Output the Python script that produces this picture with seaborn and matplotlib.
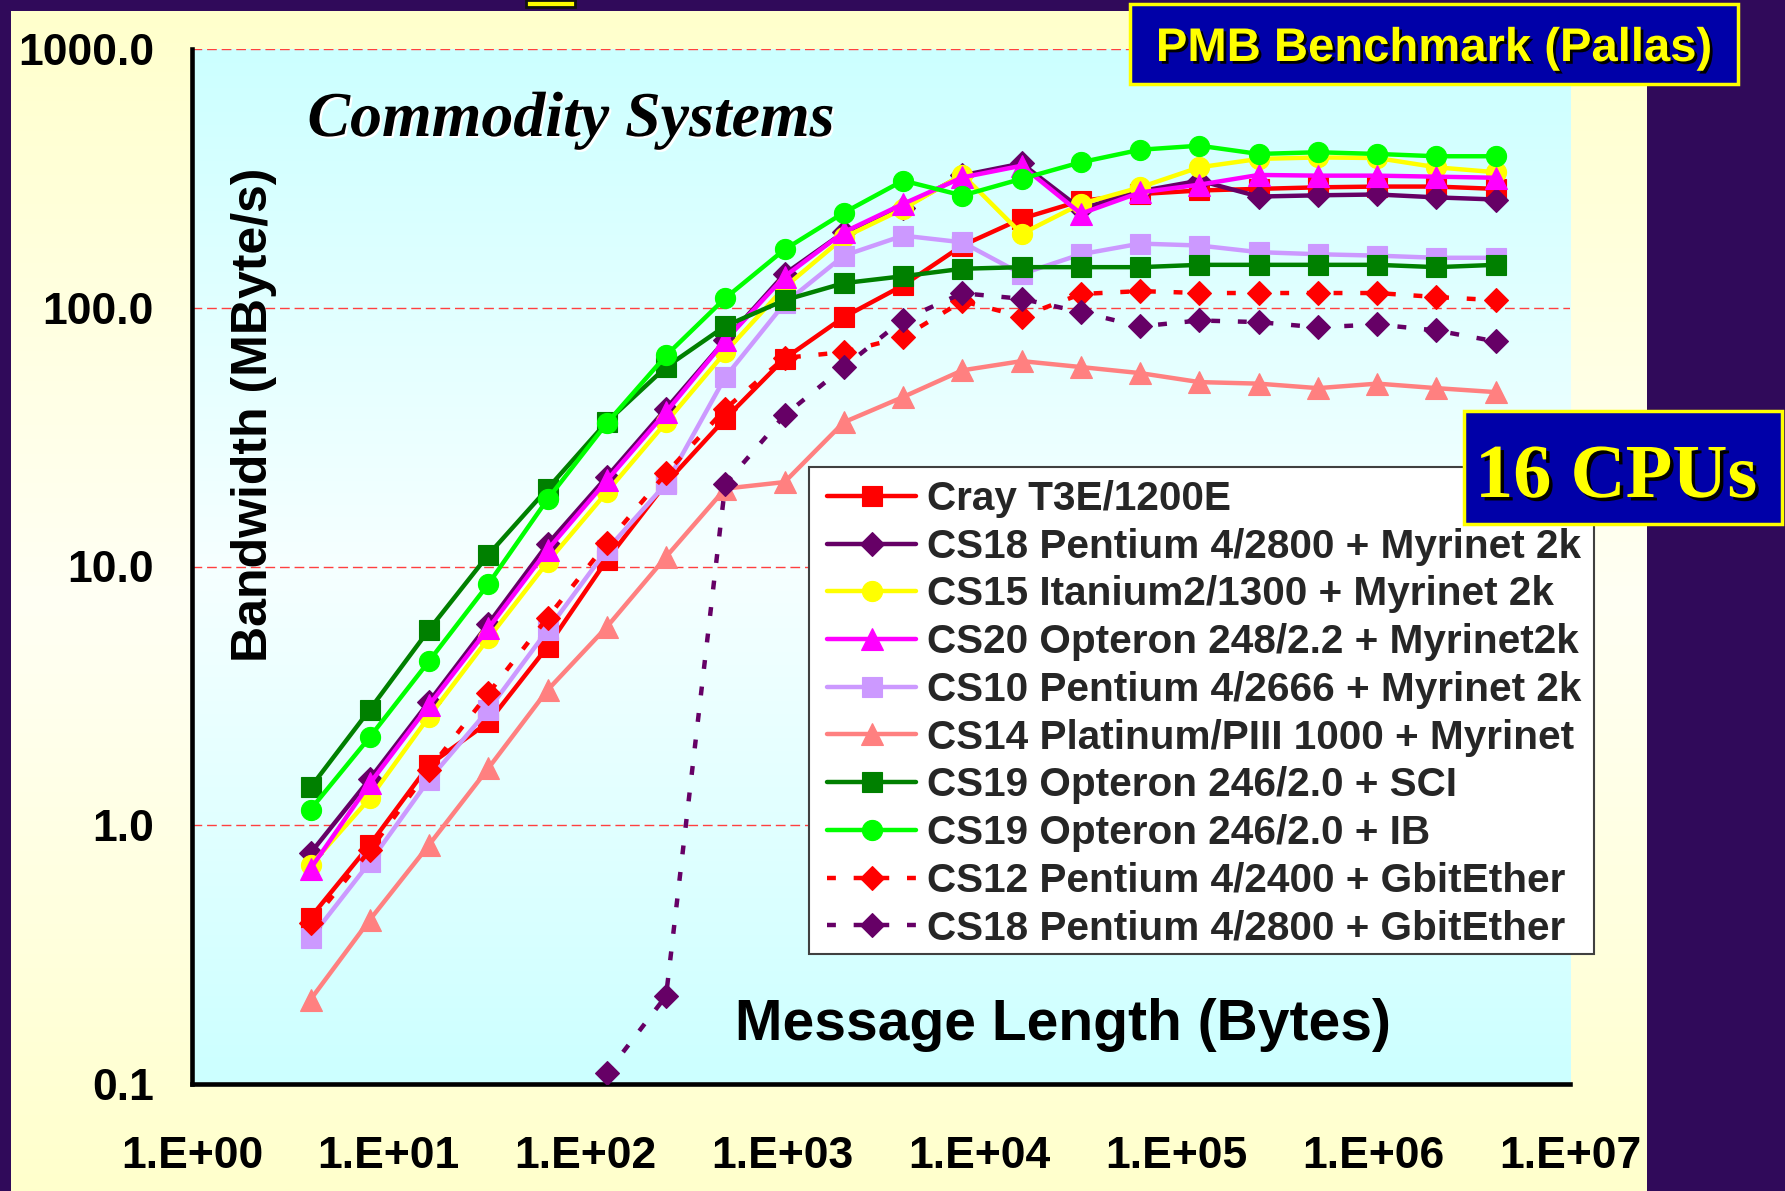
import numpy as np
import pandas as pd
import matplotlib
matplotlib.use("Agg")
import matplotlib.pyplot as plt
import seaborn as sns
from matplotlib import patheffects as pe
from matplotlib.patches import Rectangle
from matplotlib.ticker import FixedLocator, NullLocator

# ---------------- data ----------------
msg_len = [4, 8, 16, 32, 64, 128, 256, 512, 1024, 2048, 4096, 8192, 16384,
           32768, 65536, 131072, 262144, 524288, 1048576, 2097152, 4194304]

cray_t3e = [0.44, 0.84, 1.71, 2.5, 4.9, 10.6, 21.0, 37.3, 63.6, 92, 122, 174,
            221, 259, 275, 284, 288, 292, 294, 294, 288]
cs18_myri = [0.78, 1.51, 3.0, 6.0, 12.2, 22.2, 40.7, 75, 135, 196, 244, 325,
             361, 241, 282, 310, 269, 272, 274, 267, 262]
cs15_myri = [0.70, 1.27, 2.63, 5.27, 10.4, 19.4, 36.1, 67.4, 120, 187, 241, 327,
             193, 252, 292, 349, 376, 381, 379, 349, 334]
cs20_myri = [0.68, 1.45, 2.91, 5.76, 11.6, 21.5, 39.5, 74.8, 132, 196, 252, 319,
             354, 231, 279, 299, 326, 324, 324, 321, 318]
cs10_myri = [0.366, 0.72, 1.50, 2.79, 5.68, 11.6, 20.9, 54, 104, 159, 190, 179,
             135, 161, 177, 174, 164, 161, 159, 156, 156]
cs14_myri = [0.212, 0.431, 0.84, 1.66, 3.33, 5.84, 10.9, 20.0, 21.2, 36.1, 45.2,
             57.3, 62.2, 59, 55.9, 51.6, 50.9, 48.9, 50.9, 48.9, 47.2]
cs19_sci = [1.40, 2.8, 5.7, 11.1, 20.0, 36.2, 59, 85, 107, 124.5, 132.4, 141.5,
            143.5, 143.5, 143.5, 146.5, 146.5, 146.5, 146.5, 143.5, 146.5]
cs19_ib = [1.15, 2.19, 4.31, 8.55, 18.2, 35.8, 65.4, 109, 168, 233, 310, 271.5,
           315, 365, 408, 423, 393, 399, 393, 385, 385]
cs12_gbit = [0.418, 0.80, 1.64, 3.23, 6.35, 12.3, 22.9, 40.7, 64, 67.4, 77, 106,
             92.5, 113, 116, 114, 114, 114, 114, 110, 107]
cs18_gbit = [np.nan, np.nan, np.nan, np.nan, np.nan, 0.110, 0.219, 20.9, 38.4, 59,
             89.9, 113.8, 108.3, 96.2, 84.7, 89.3, 88, 84, 86.2, 81.7, 74.1]

series_names = [
    "Cray T3E/1200E",
    "CS18 Pentium 4/2800 + Myrinet 2k",
    "CS15 Itanium2/1300 + Myrinet 2k",
    "CS20 Opteron 248/2.2 + Myrinet2k",
    "CS10 Pentium 4/2666 + Myrinet 2k",
    "CS14 Platinum/PIII 1000 + Myrinet",
    "CS19 Opteron 246/2.0 + SCI",
    "CS19 Opteron 246/2.0 + IB",
    "CS12 Pentium 4/2400 + GbitEther",
    "CS18 Pentium 4/2800 + GbitEther",
]
series_values = [cray_t3e, cs18_myri, cs15_myri, cs20_myri, cs10_myri,
                 cs14_myri, cs19_sci, cs19_ib, cs12_gbit, cs18_gbit]

x_ticks = [1e0, 1e1, 1e2, 1e3, 1e4, 1e5, 1e6, 1e7]
x_tick_labels = ["1.E+00", "1.E+01", "1.E+02", "1.E+03", "1.E+04", "1.E+05",
                 "1.E+06", "1.E+07"]
y_ticks = [0.1, 1, 10, 100, 1000]
y_tick_labels = ["0.1", "1.0", "10.0", "100.0", "1000.0"]

# ---------------- styles ----------------
series_colors = ["#FF0000", "#660066", "#FFFF00", "#FF00FF", "#CC99FF",
                 "#FF8080", "#008000", "#00FF00", "#FF0000", "#660066"]
series_markers = ["s", "D", "o", "^", "s", "^", "s", "o", "D", "D"]
marker_sizes = {"s": 14, "D": 12.5, "o": 14.5, "^": 16}
series_dashed = [False] * 8 + [True, True]

W, H, DPI = 1785, 1191, 100

sns.set_style("white")
plt.rcParams["font.family"] = ["Liberation Sans", "DejaVu Sans"]
plt.rcParams["font.weight"] = "bold"


def fx(px):
    return px / W


def fy(py):
    return 1 - py / H


fig = plt.figure(figsize=(W / DPI, H / DPI), dpi=DPI)
fig.patch.set_facecolor("#300A5A")

# cream slide background with soft gradient
t = np.linspace(0, 1, 256)
w = 1 - np.abs(2 * t - 1)
cream = np.array([255, 255, 204]) / 255
cream_c = np.array([255, 255, 244]) / 255
grad = cream + (cream_c - cream) * w[:, None]
bg = fig.add_axes([fx(11), 0, fx(1646) - fx(11), fy(11)], zorder=-3)
bg.imshow(grad[:, None, :], aspect="auto", extent=(0, 1, 0, 1),
          interpolation="bilinear")
bg.set_xlim(0, 1)
bg.set_ylim(0, 1)
bg.set_axis_off()

# plot area
rect = [fx(192), fy(1084), (1570 - 192) / W, (1084 - 49) / H]
cyan = np.array([204, 255, 255]) / 255
cyan_c = np.array([246, 255, 255]) / 255
grad2 = cyan + (cyan_c - cyan) * w[:, None]
pb = fig.add_axes(rect, zorder=-2)
pb.imshow(grad2[:, None, :], aspect="auto", extent=(0, 1, 0, 1),
          interpolation="bilinear")
pb.set_xlim(0, 1)
pb.set_ylim(0, 1)
pb.set_axis_off()

ax = fig.add_axes(rect, zorder=0)
ax.patch.set_alpha(0)
ax.set_xscale("log")
ax.set_yscale("log")

for i, (name, vals, color, mk, dashed) in enumerate(
        zip(series_names, series_values, series_colors, series_markers,
            series_dashed)):
    df = pd.DataFrame({"len": msg_len, "bw": vals})
    sns.lineplot(data=df, x="len", y="bw", ax=ax, color=color, marker=mk,
                 markersize=marker_sizes[mk], markeredgecolor=color,
                 markeredgewidth=0.8, linewidth=3.2,
                 linestyle=(0, (2, 4)) if dashed else "-",
                 label=name, estimator=None, sort=False, errorbar=None,
                 zorder=3 + i)

ax.set_xlim(1, 1e7)
ax.set_ylim(0.1, 1000)
ax.xaxis.set_major_locator(FixedLocator(x_ticks))
ax.xaxis.set_minor_locator(NullLocator())
ax.yaxis.set_major_locator(FixedLocator(y_ticks))
ax.yaxis.set_minor_locator(NullLocator())
ax.set_xticklabels(x_tick_labels, fontsize=32, fontweight="bold")
ax.set_yticklabels(y_tick_labels, fontsize=32, fontweight="bold")
ax.tick_params(axis="both", which="major", direction="out", length=10.8,
               width=3.3, color="black", labelcolor="black")
ax.tick_params(axis="x", pad=27)
ax.tick_params(axis="y", pad=16.5)
for s in ["top", "right"]:
    ax.spines[s].set_visible(False)
for s in ["left", "bottom"]:
    ax.spines[s].set_linewidth(3.3)
    ax.spines[s].set_color("black")
ax.set_xlabel("")
ax.set_ylabel("")
ax.grid(False)
ax.yaxis.grid(True, which="major", color="#FF4040", linestyle=(0, (7, 3.5)),
              linewidth=1.0)
ax.set_axisbelow(True)

# legend: white box + frameless legend
ax.add_patch(Rectangle((fx(809), fy(954)), (1594 - 809) / W, (954 - 467) / H,
                       transform=fig.transFigure, facecolor="white",
                       edgecolor="#404040", lw=1.5, zorder=19, clip_on=False))
handles, labels = ax.get_legend_handles_labels()
leg = ax.legend(handles, labels, loc="upper left",
                bbox_to_anchor=(fx(827), fy(480)),
                bbox_transform=fig.transFigure, borderaxespad=0,
                borderpad=0, handlelength=2.2, handletextpad=0.27,
                labelspacing=0.24, frameon=False,
                prop={"family": "Liberation Sans", "weight": "bold",
                      "size": 29.2}, numpoints=1)
leg.set_zorder(20)

# texts
fig.text(fx(571), fy(136), "Commodity Systems", ha="center", va="baseline",
         fontsize=46, family=["Liberation Serif", "DejaVu Serif"],
         weight="bold", style="italic", color="black",
         path_effects=[pe.withSimplePatchShadow(offset=(1.5, -1.5),
                                                shadow_rgbFace="white",
                                                alpha=1)])
fig.text(fx(254), fy(415), "Bandwidth (MByte/s)", rotation=90, ha="center",
         va="center", fontsize=36, weight="bold", color="black")
fig.text(fx(1063), fy(1040), "Message Length (Bytes)", ha="center",
         va="baseline", fontsize=41, weight="bold", color="black")

# boxes
fig.add_artist(Rectangle((fx(526), fy(7)), 49 / W, 7 / H,
                         transform=fig.transFigure, facecolor="#FFFF00",
                         edgecolor="#111111", lw=2, zorder=5))
fig.add_artist(Rectangle((fx(1130), fy(84)), (1738 - 1130) / W, 80 / H,
                         transform=fig.transFigure, facecolor="#0000A8",
                         edgecolor="#FFFF00", lw=2.5, zorder=5))
fig.text(fx(1434), fy(61), "PMB Benchmark (Pallas)", ha="center",
         va="baseline", fontsize=34, weight="bold", color="#FFFF00",
         zorder=6,
         path_effects=[pe.withSimplePatchShadow(offset=(2, -2),
                                                shadow_rgbFace="black",
                                                alpha=1)])
fig.add_artist(Rectangle((fx(1464), fy(524)), (1782 - 1464) / W, 113 / H,
                         transform=fig.transFigure, facecolor="#0000A8",
                         edgecolor="#FFFF00", lw=2.5, zorder=25))
fig.text(fx(1616), fy(497), "16 CPUs", ha="center", va="baseline",
         fontsize=55, family=["Liberation Serif", "DejaVu Serif"],
         weight="bold", color="#FFFF00", zorder=26,
         path_effects=[pe.withSimplePatchShadow(offset=(2.5, -2.5),
                                                shadow_rgbFace="black",
                                                alpha=1)])

fig.savefig("out.png", dpi=DPI, facecolor=fig.get_facecolor())
